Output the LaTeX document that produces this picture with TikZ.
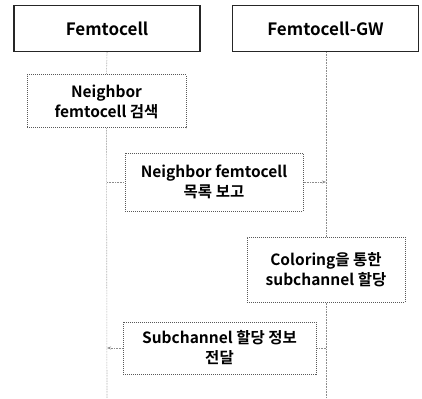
\documentclass[tikz,border=0pt]{standalone}
\usepackage{fontspec}
\setmainfont{Noto Sans CJK KR}[BoldFont={Noto Sans CJK KR Bold}]
\usetikzlibrary{arrows.meta}
\begin{document}
\begin{tikzpicture}[x=1pt,y=-1pt,
  head/.style={draw=black!85,line width=1.3pt,minimum width=186pt,minimum height=46pt,inner sep=0pt,font=\fontsize{17}{20}\selectfont\bfseries},
  stepbox/.style={draw=black!65,densely dotted,line width=1pt,inner sep=0pt,align=center,font=\fontsize{15.5}{20}\selectfont\bfseries},
  life/.style={draw=black!45,densely dotted,line width=0.6pt},
  msg/.style={draw=black!45,densely dotted,line width=0.6pt},
  tip/.style={-{Stealth[length=4pt,width=3pt]}}]
\useasboundingbox[fill=white] (0,0) rectangle (422,398);
\node[head] (fc) at (107,28.5) {Femtocell};
\node[head] (gw) at (325.5,28.5) {Femtocell-GW};
\node[stepbox,minimum width=159pt,minimum height=53pt] (n1) at (106.5,101.5) {Neighbor\\femtocell 검색};
\node[stepbox,minimum width=178pt,minimum height=58pt] (n2) at (214,182) {Neighbor femtocell\\목록 보고};
\node[stepbox,minimum width=158pt,minimum height=65pt] (n3) at (326,269.5) {Coloring을 통한\\subchannel 할당};
\node[stepbox,minimum width=193pt,minimum height=52pt] (n4) at (219.5,348) {Subchannel 할당 정보\\전달};
\coordinate (lb) at (107,398);
\coordinate (rb) at (326,398);
\coordinate (l1) at (107,182);
\coordinate (r1) at (326,182);
\coordinate (l2) at (107,348);
\coordinate (r2) at (326,348);
\draw[life] (fc.south) -- (n1.north);
\draw[life] (n1.south) -- (lb);
\draw[life] (gw.south -| rb) -- (n3.north);
\draw[life] (n3.south) -- (rb);
\draw[msg] (l1) -- (n2.west);
\draw[msg,tip] (n2.east) -- (r1);
\draw[msg] (r2) -- (n4.east);
\draw[msg,tip] (n4.west) -- (l2);
\end{tikzpicture}
\end{document}
